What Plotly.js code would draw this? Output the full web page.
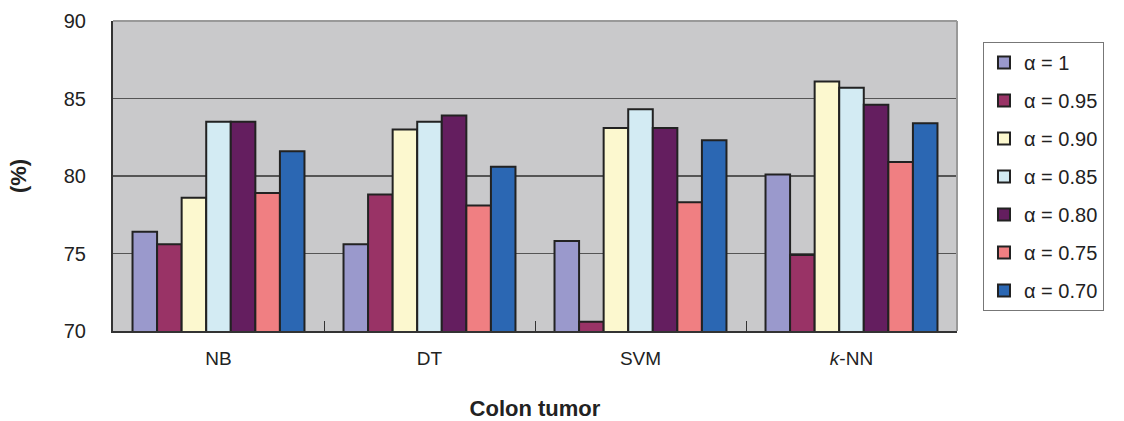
<!DOCTYPE html>
<html>
<head>
<meta charset="utf-8">
<script src="https://cdn.plot.ly/plotly-3.0.1.min.js"></script>
<style>html,body{margin:0;padding:0;background:#fff;}#chart{width:1124px;height:421px;}</style>
</head>
<body>
<div id="chart"></div>
<script>
const categories = ["NB", "DT", "SVM", "<i>k</i>-NN"];
const seriesNames = ["α = 1", "α = 0.95", "α = 0.90", "α = 0.85", "α = 0.80", "α = 0.75", "α = 0.70"];
const alpha100 = [76.4, 75.6, 75.8, 80.1];
const alpha095 = [75.6, 78.8, 70.6, 74.9];
const alpha090 = [78.6, 83.0, 83.1, 86.1];
const alpha085 = [83.5, 83.5, 84.3, 85.7];
const alpha080 = [83.5, 83.9, 83.1, 84.6];
const alpha075 = [78.9, 78.1, 78.3, 80.9];
const alpha070 = [81.6, 80.6, 82.3, 83.4];
const seriesValues = [alpha100, alpha095, alpha090, alpha085, alpha080, alpha075, alpha070];
const colors = ["#9a99cc", "#993366", "#fcf8cf", "#d3ebf3", "#641e5f", "#f07f82", "#2b67b3"];

const traces = seriesNames.map((name, i) => ({
  type: "bar",
  name: name,
  x: categories,
  y: seriesValues[i],
  legendgroup: "g" + i,
  marker: { color: colors[i], line: { color: "#222", width: 2 } },
  hoverinfo: "x+y+name"
}));

const layout = {
  width: 1124,
  height: 421,
  margin: { l: 113, r: 167, t: 21, b: 90 },
  paper_bgcolor: "#ffffff",
  plot_bgcolor: "#c9c9cb",
  font: { family: "Arial, 'Liberation Sans', sans-serif", color: "#222", size: 17 },
  barmode: "group",
  bargap: 0.185,
  bargroupgap: 0,
  xaxis: {
    type: "category",
    showline: true, linecolor: "#333", linewidth: 2,
    ticks: "inside", tickson: "boundaries", ticklen: 10, tickcolor: "#333", tickwidth: 1,
    ticklabelstandoff: 9,
    tickfont: { size: 19, color: "#222" },
    showgrid: false,
    title: { text: "<b>Colon tumor</b>", font: { size: 22, color: "#222" }, standoff: 36 }
  },
  yaxis: {
    range: [70, 90], dtick: 5, tick0: 70,
    showline: true, linecolor: "#333", linewidth: 2,
    showgrid: true, gridcolor: "#555", gridwidth: 1.3,
    ticks: "", ticklabelstandoff: 21,
    tickfont: { size: 20, color: "#222" },
    zeroline: false,
    title: { text: "<b>(%)</b>", font: { size: 22, color: "#222" }, standoff: 31 }
  },
  legend: {
    x: 1.0308, xanchor: "left", y: 0.932, yanchor: "top",
    bgcolor: "#ffffff", bordercolor: "#777", borderwidth: 1,
    font: { size: 20, color: "#222" },
    traceorder: "grouped", tracegroupgap: 9,
    itemwidth: 30
  },
  shapes: [
    { type: "line", xref: "paper", yref: "paper", x0: 0, x1: 1, y0: 1, y1: 1, line: { color: "#999", width: 2 } },
    { type: "line", xref: "paper", yref: "paper", x0: 1, x1: 1, y0: 0, y1: 1, line: { color: "#999", width: 2 } }
  ],
  showlegend: true
};

Plotly.newPlot("chart", traces, layout, { displayModeBar: false, staticPlot: true });
</script>
</body>
</html>
